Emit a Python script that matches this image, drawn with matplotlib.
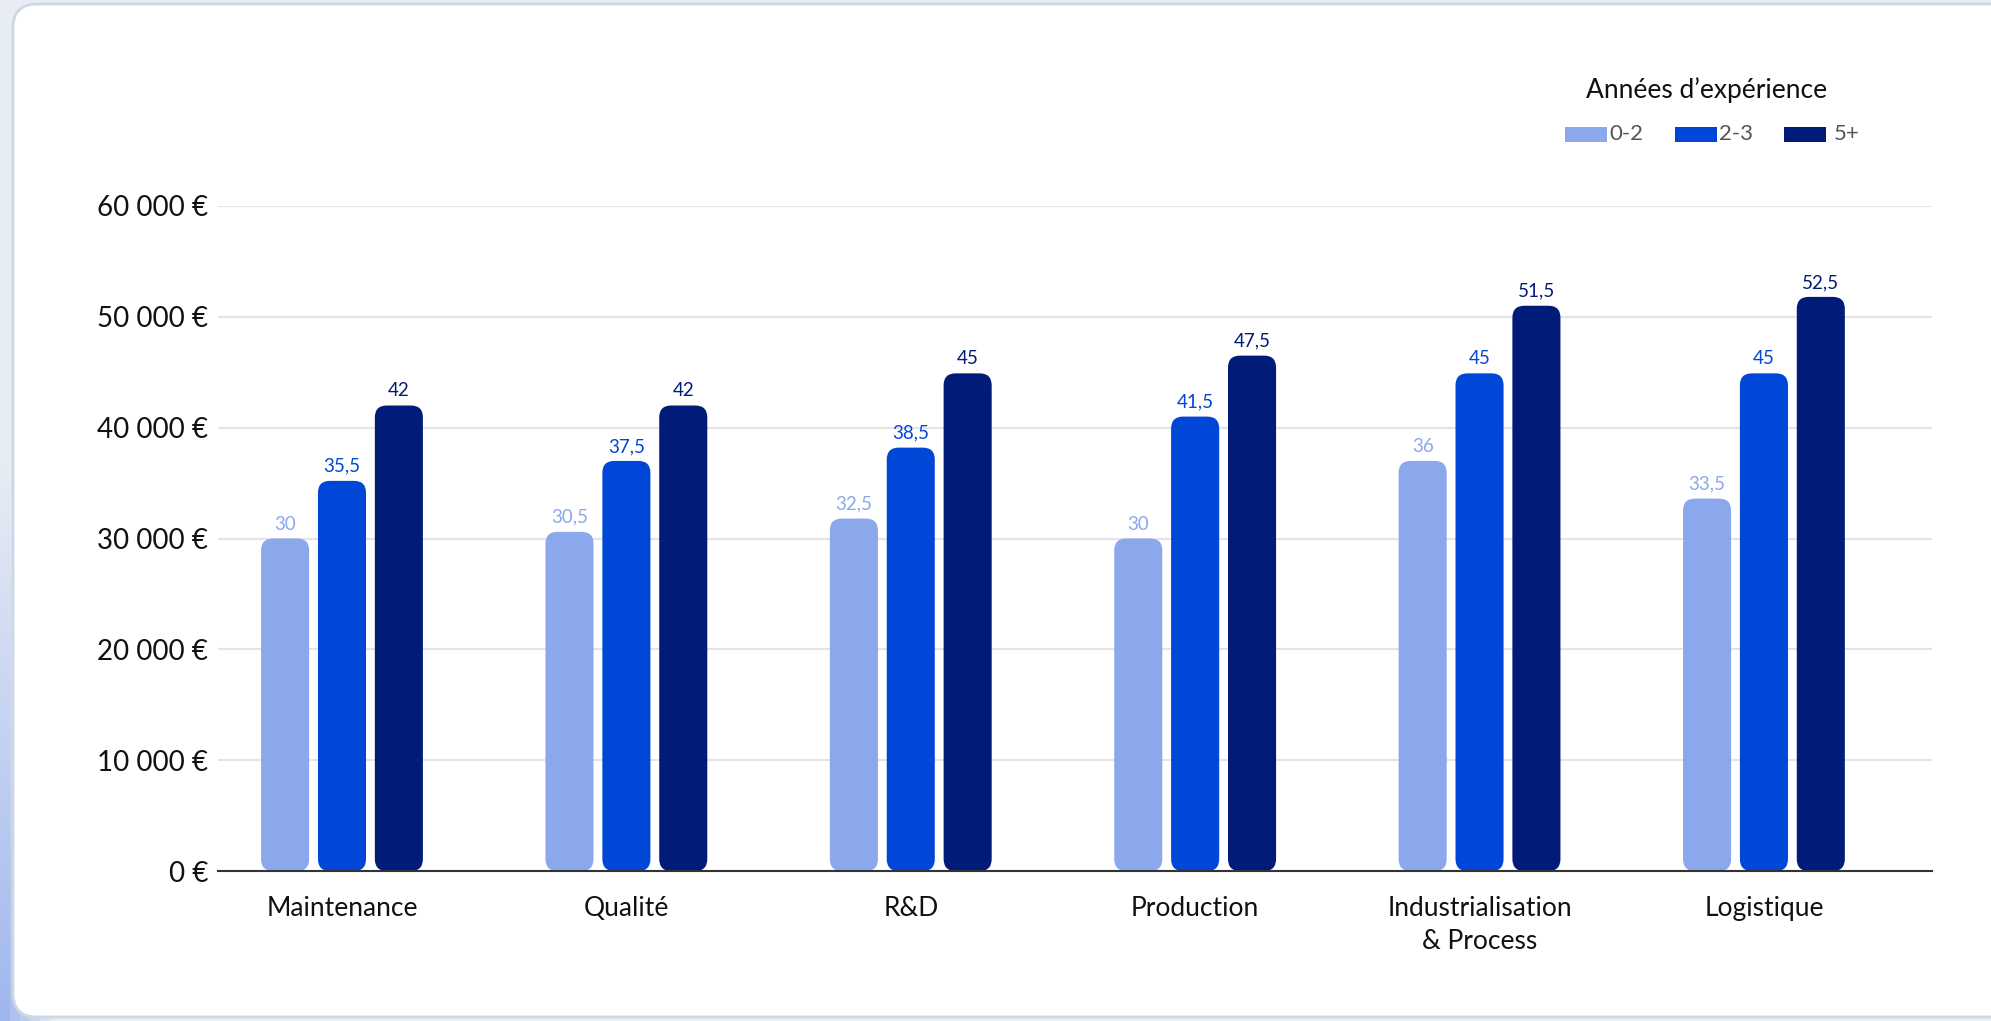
import numpy as np
import matplotlib
matplotlib.use("Agg")
import matplotlib.pyplot as plt
from matplotlib.patches import FancyBboxPatch, Rectangle

plt.rcParams['font.family'] = ['Lato', 'DejaVu Sans']

# Données (salaires en milliers d'euros)
metiers = ["Maintenance", "Qualité", "R&D", "Production",
           "Industrialisation\n& Process", "Logistique"]
series = ["0-2", "2-3", "5+"]
# hauteur des barres telle que dessinée
h_0_2 = [30.0, 30.6, 31.8, 30.0, 37.0, 33.6]
h_2_3 = [35.2, 37.0, 38.2, 41.0, 44.9, 44.9]
h_5p = [42.0, 42.0, 44.9, 46.5, 51.0, 51.8]
# étiquettes affichées au-dessus des barres
lab_0_2 = ["30", "30,5", "32,5", "30", "36", "33,5"]
lab_2_3 = ["35,5", "37,5", "38,5", "41,5", "45", "45"]
lab_5p = ["42", "42", "45", "47,5", "51,5", "52,5"]
yticks = [0, 10000, 20000, 30000, 40000, 50000, 60000]

couleurs = ["#8ba8ed", "#0046d7", "#001b78"]
hauteurs = [h_0_2, h_2_3, h_5p]
etiquettes = [lab_0_2, lab_2_3, lab_5p]

W, H = 1991, 1021
fig = plt.figure(figsize=(W / 100, H / 100), dpi=100)
fig.patch.set_facecolor("#e8edf4")

# fond : gradient bleu en bas a gauche
bg = fig.add_axes([0, 0, 1, 1], zorder=-10)
bg.set_axis_off()
grad = np.zeros((200, 200, 4))
yy, xx = np.mgrid[0:1:200j, 0:1:200j]
a = np.clip((yy - 0.45) * 1.6, 0, 1) * np.clip(1 - xx * 40, 0, 1)
grad[..., 0] = 0.55
grad[..., 1] = 0.66
grad[..., 2] = 0.93
grad[..., 3] = a * 0.9
bg.imshow(grad, extent=[0, 1, 0, 1], aspect="auto", origin="upper")
bg.set_xlim(0, 1)
bg.set_ylim(0, 1)
card = FancyBboxPatch((13 / W, 4 / H), 2200 / W, 1013 / H,
                      boxstyle="round,pad=0,rounding_size=0.012",
                      transform=bg.transAxes, facecolor="white",
                      edgecolor="#cdd8e6", linewidth=2,
                      mutation_aspect=W / H)
bg.add_patch(card)

# axes principal
x0, x1 = 218 / W, 1932 / W
y0, y1 = (H - 871) / H, (H - 206) / H
ax = fig.add_axes([x0, y0, x1 - x0, y1 - y0])
ax.set_facecolor("none")
ax.set_xlim(-0.436, 5.591)
ax.set_ylim(0, 60000)

largeur = 0.169
pas = 0.2
x = np.arange(len(metiers))

# rapport d'aspect pour arrondir les coins
px_x = (x1 - x0) * W / (5.591 + 0.436)
px_y = (y1 - y0) * H / 60000
aspect = px_x / px_y
r = 12 / px_x

for i in range(3):
    for j in range(len(metiers)):
        cx = x[j] + (i - 1) * pas
        hv = hauteurs[i][j] * 1000
        p = FancyBboxPatch((cx - largeur / 2, 0), largeur, hv,
                           boxstyle="round,pad=0,rounding_size=%f" % r,
                           mutation_aspect=aspect, facecolor=couleurs[i],
                           edgecolor="none", zorder=3)
        ax.add_patch(p)
        ax.annotate(etiquettes[i][j], (cx, hv), xytext=(0, 6),
                    textcoords="offset pixels", ha="center", va="bottom",
                    fontsize=13.5, color=couleurs[i], zorder=4)

ax.set_yticks(yticks)
ax.set_yticklabels([("{:,}".format(v).replace(",", " ") + " €") for v in yticks])
ax.grid(axis="y", color="#e4e4e4", linewidth=1.5, zorder=0)
ax.set_axisbelow(True)
ax.tick_params(axis="y", length=0, pad=7, labelsize=20, labelcolor="#111111")
ax.tick_params(axis="x", length=0, pad=18, labelsize=19, labelcolor="#111111")
ax.set_xticks(x)
ax.set_xticklabels(metiers, linespacing=1.4)
for s in ["top", "right", "left"]:
    ax.spines[s].set_visible(False)
ax.spines["bottom"].set_color("#333333")
ax.spines["bottom"].set_linewidth(1.5)
ax.spines["bottom"].set_zorder(5)

# légende
fig.text(1707 / W, 1 - 90 / H, "Années d’expérience", ha="center", va="center",
         fontsize=19, color="#111111")
leg_x = [1565, 1675, 1784]
for i, s in enumerate(series):
    fig.patches.append(Rectangle((leg_x[i] / W, 1 - 142 / H), 42 / W, 15 / H,
                                 transform=fig.transFigure, facecolor=couleurs[i],
                                 edgecolor="none"))
    fig.text((leg_x[i] + 44 + (6 if i == 2 else 0)) / W, 1 - 134 / H, s,
             ha="left", va="center", fontsize=16, color="#555555")

fig.savefig("out.png", dpi=100, facecolor=fig.get_facecolor())
